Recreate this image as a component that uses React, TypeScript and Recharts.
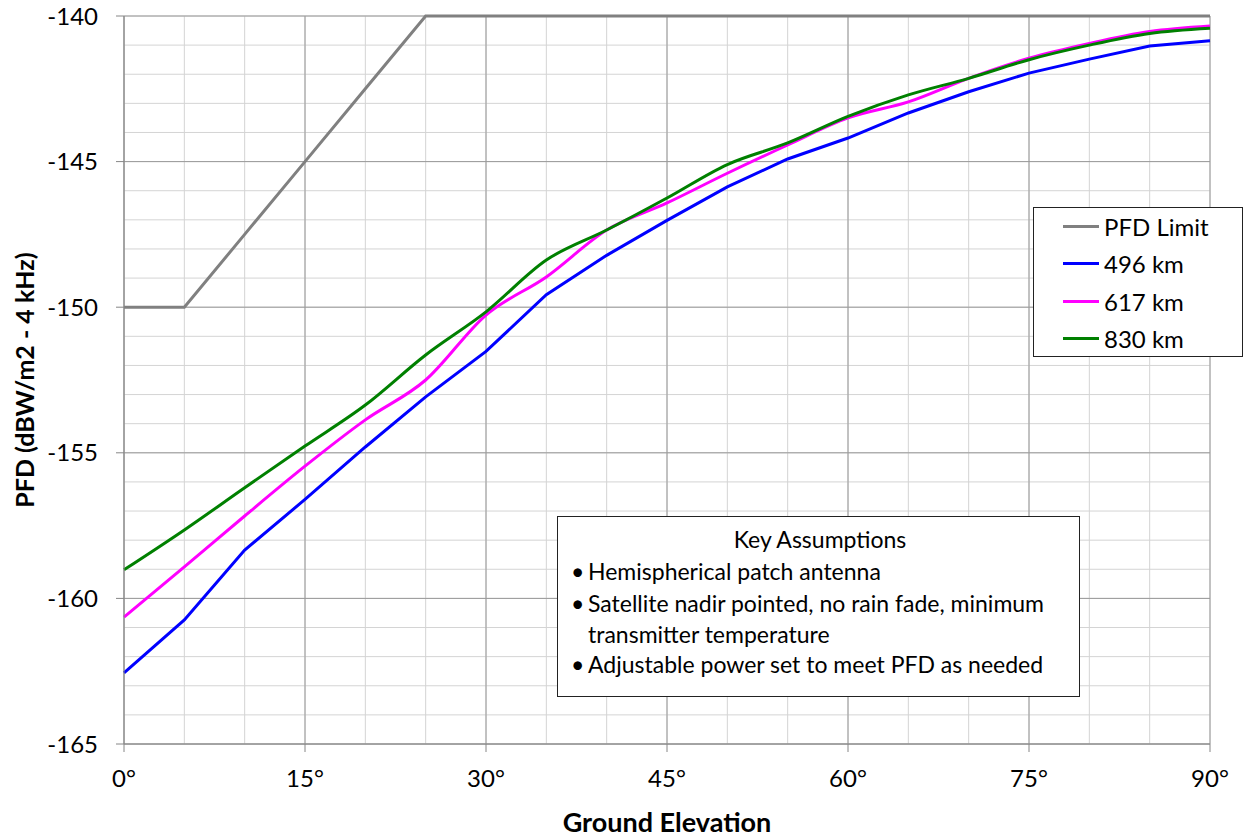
import { CartesianGrid, Line, LineChart, XAxis, YAxis } from 'recharts'

const elevation = [0, 5, 10, 15, 20, 25, 30, 35, 40, 45, 50, 55, 60, 65, 70, 75, 80, 85, 90]
const pfdLimit = [-150, -150, -147.5, -145, -142.5, -140, -140, -140, -140, -140, -140, -140, -140, -140, -140, -140, -140, -140, -140]
const km496 = [-162.56, -160.74, -158.34, -156.6, -154.8, -153.08, -151.52, -149.57, -148.22, -147.02, -145.87, -144.91, -144.19, -143.33, -142.6, -141.96, -141.48, -141.03, -140.85]
const km617 = [-160.64, -158.92, -157.17, -155.46, -153.87, -152.5, -150.27, -148.96, -147.35, -146.42, -145.4, -144.43, -143.5, -142.95, -142.14, -141.45, -140.94, -140.53, -140.34]
const km830 = [-159.02, -157.65, -156.2, -154.77, -153.36, -151.64, -150.16, -148.38, -147.35, -146.25, -145.1, -144.36, -143.45, -142.71, -142.14, -141.5, -141.0, -140.6, -140.42]

const xTicks = [0, 15, 30, 45, 60, 75, 90]
const yTicks = [-165, -160, -155, -150, -145, -140]
const xMinor = [0, 5, 10, 15, 20, 25, 30, 35, 40, 45, 50, 55, 60, 65, 70, 75, 80, 85, 90]
const yMinor = [-165, -164, -163, -162, -161, -160, -159, -158, -157, -156, -155, -154, -153, -152, -151, -150, -149, -148, -147, -146, -145, -144, -143, -142, -141, -140]

const assumptions = [
  'Hemispherical patch antenna',
  'Satellite nadir pointed, no rain fade, minimum',
  'transmitter temperature',
  'Adjustable power set to meet PFD as needed',
]

const series = [
  { key: 'limit', name: 'PFD Limit', color: '#808080', type: 'linear' },
  { key: 'a', name: '496 km', color: '#0000ff', type: 'linear' },
  { key: 'b', name: '617 km', color: '#ff00ff', type: 'monotone' },
  { key: 'c', name: '830 km', color: '#008000', type: 'monotone' },
] as const

const data = elevation.map((e, i) => ({
  elev: e,
  limit: pfdLimit[i],
  a: km496[i],
  b: km617[i],
  c: km830[i],
}))

const font = 'Lato, "Open Sans", sans-serif'

export default function App() {
  return (
    <div style={{ position: 'fixed', left: 0, top: 0, width: 1247, height: 839, background: '#fff' }}>
      <LineChart width={1247} height={839} data={data} margin={{ top: 16, right: 37, bottom: 55, left: 54 }}>
        <CartesianGrid stroke="#d4d4d4" verticalValues={xMinor} horizontalValues={yMinor} />
        <CartesianGrid stroke="#9a9a9a" verticalValues={xTicks} horizontalValues={yTicks} />
        <XAxis
          dataKey="elev"
          type="number"
          domain={[0, 90]}
          ticks={xTicks}
          tickFormatter={(v) => `${v}°`}
          stroke="#868686"
          tickSize={8}
          tickMargin={18}
          height={40}
          tick={{ fill: '#000', fontFamily: font, fontSize: 24 }}
          label={{
            value: 'Ground Elevation',
            position: 'insideBottom',
            offset: -48,
            style: { fill: '#000', fontFamily: font, fontSize: 27, fontWeight: 700 },
          }}
        />
        <YAxis
          type="number"
          domain={[-165, -140]}
          ticks={yTicks}
          stroke="#868686"
          tickSize={8}
          tickMargin={18}
          width={70}
          tick={{ fill: '#000', fontFamily: font, fontSize: 24 }}
          label={{
            value: 'PFD (dBW/m2 - 4 kHz)',
            angle: -90,
            position: 'insideLeft',
            offset: -29,
            style: { textAnchor: 'middle', fill: '#000', fontFamily: font, fontSize: 25, fontWeight: 700 },
          }}
        />
        {series.map((s) => (
          <Line
            key={s.key}
            dataKey={s.key}
            name={s.name}
            type={s.type}
            stroke={s.color}
            strokeWidth={3}
            dot={false}
            isAnimationActive={false}
          />
        ))}
      </LineChart>
      <div
        style={{
          position: 'absolute',
          left: 1033,
          top: 207,
          width: 210,
          height: 150,
          border: '1px solid #222',
          background: '#fff',
          fontFamily: font,
          fontSize: 24,
          boxSizing: 'border-box',
        }}
      >
        {series.map((s) => (
          <div key={s.key} style={{ display: 'flex', alignItems: 'center', height: 37.3 }}>
            <div style={{ width: 36, height: 3, background: s.color, marginLeft: 29, marginRight: 5 }} />
            <span style={{ color: '#000' }}>{s.name}</span>
          </div>
        ))}
      </div>
      <div
        style={{
          position: 'absolute',
          left: 557,
          top: 516,
          width: 523,
          height: 181,
          border: '1px solid #222',
          background: '#fff',
          boxSizing: 'border-box',
          fontFamily: font,
          fontSize: 23,
          color: '#000',
          padding: '7px 10px 0 13px',
        }}
      >
        <div style={{ textAlign: 'center', lineHeight: '31px' }}>Key Assumptions</div>
        {assumptions.map((t, i) => (
          <div key={i} style={{ display: 'flex', lineHeight: i === 2 ? '28px' : i === 1 ? '33px' : '32px' }}>
            <span style={{ width: 17 }}>{i === 2 ? '' : '•'}</span>
            <span>{t}</span>
          </div>
        ))}
      </div>
    </div>
  )
}
